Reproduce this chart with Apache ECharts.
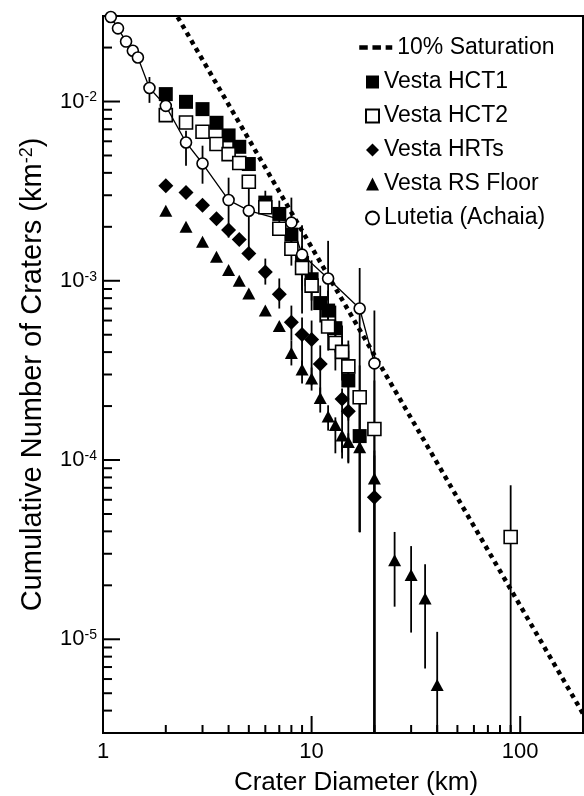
<!DOCTYPE html>
<html>
<head>
<meta charset="utf-8">
<script src="https://cdn.jsdelivr.net/npm/echarts@6/dist/echarts.min.js"></script>
<style>html,body{margin:0;padding:0;background:#fff}#c{width:584px;height:796px}</style>
</head>
<body>
<div id="c"></div>
<script>
// ---------- axis ranges ----------
const X_MIN = 1, X_MAX = 200;
const Y_MIN = 3e-6, Y_MAX = 3e-2;

// ---------- tick values ----------
const xMajorTicks = [10, 100];
const xMinorTicks = [2, 3, 4, 5, 6, 7, 8, 9, 20, 30, 40, 50, 60, 70, 80, 90];
const yMajorTicks = [1e-5, 1e-4, 1e-3, 1e-2];
const yMinorTicks = [4e-6, 5e-6, 6e-6, 7e-6, 8e-6, 9e-6,
  2e-5, 3e-5, 4e-5, 5e-5, 6e-5, 7e-5, 8e-5, 9e-5,
  2e-4, 3e-4, 4e-4, 5e-4, 6e-4, 7e-4, 8e-4, 9e-4,
  2e-3, 3e-3, 4e-3, 5e-3, 6e-3, 7e-3, 8e-3, 9e-3, 2e-2];

// ---------- 10% saturation line ----------
const satX = [2.28, 200];
const satY = [0.0296, 3.85e-6];

// ---------- Vesta HCT1 ----------
const hct1X  = [2, 2.5, 3, 3.5, 4, 4.5, 5, 6, 7, 8, 9, 10, 11, 12, 13, 15, 17];
const hct1Y  = [1.10e-2, 9.96e-3, 9.07e-3, 7.61e-3, 6.47e-3, 5.59e-3, 4.48e-3, 2.73e-3, 2.36e-3, 1.81e-3, 1.26e-3, 1.02e-3, 7.51e-4, 6.82e-4, 5.44e-4, 2.78e-4, 1.36e-4];
const hct1Lo = [null, null, null, null, null, null, null, 2.40e-3, 1.95e-3, 1.47e-3, 1.00e-3, 7.76e-4, 5.85e-4, 4.95e-4, 3.98e-4, 1.66e-4, 3.96e-5];
const hct1Hi = [null, null, null, null, null, null, null, 3.18e-3, 2.80e-3, 2.16e-3, 1.57e-3, 1.30e-3, 9.40e-4, 8.82e-4, 7.27e-4, 4.08e-4, 2.44e-4];

// ---------- Vesta HCT2 ----------
const hct2X  = [2, 2.5, 3, 3.5, 4, 4.5, 5, 6, 7, 8, 9, 10, 12, 13, 14, 15, 17, 20, 90];
const hct2Y  = [8.40e-3, 7.64e-3, 6.78e-3, 5.79e-3, 5.09e-3, 4.54e-3, 3.57e-3, 2.57e-3, 1.95e-3, 1.51e-3, 1.18e-3, 9.40e-4, 5.56e-4, 4.50e-4, 4.01e-4, 3.33e-4, 2.24e-4, 1.49e-4, 3.72e-5];
const hct2Lo = [null, null, null, null, null, null, null, null, null, 1.215e-3, 8.82e-4, 6.82e-4, 4.08e-4, 3.16e-4, 2.78e-4, 2.15e-4, 1.29e-4, 0, 0];
const hct2Hi = [null, null, null, null, null, null, null, null, null, 1.79e-3, 1.47e-3, 1.215e-3, 7.27e-4, 6.00e-4, 5.63e-4, 4.64e-4, 3.37e-4, 2.78e-4, 7.23e-5];

// ---------- Vesta HRTs ----------
const hrtX  = [2, 2.5, 3, 3.5, 4, 4.5, 5, 6, 7, 8, 9, 10, 11, 14, 15, 20];
const hrtY  = [3.39e-3, 3.11e-3, 2.64e-3, 2.22e-3, 1.92e-3, 1.70e-3, 1.42e-3, 1.12e-3, 8.41e-4, 5.87e-4, 5.01e-4, 4.70e-4, 3.43e-4, 2.19e-4, 1.87e-4, 6.20e-5];
const hrtLo = [null, null, null, null, null, null, null, 9.52e-4, 7.00e-4, 4.64e-4, 3.08e-4, 2.61e-4, 2.29e-4, 1.10e-4, 9.71e-5, 0];
const hrtHi = [null, null, null, null, null, null, null, 1.33e-3, 1.03e-3, 7.27e-4, 6.24e-4, 6.00e-4, 4.36e-4, 2.51e-4, 2.15e-4, 1.13e-4];

// ---------- Vesta RS Floor ----------
const rsX  = [2, 2.5, 3, 3.5, 4, 4.5, 5, 6, 7, 8, 9, 10, 11, 12, 13, 14, 15, 17, 20, 25, 30, 35, 40];
const rsY  = [2.46e-3, 2.00e-3, 1.65e-3, 1.36e-3, 1.15e-3, 9.99e-4, 8.48e-4, 6.82e-4, 5.59e-4, 3.96e-4, 3.20e-4, 2.85e-4, 2.22e-4, 1.75e-4, 1.57e-4, 1.37e-4, 1.26e-4, 1.18e-4, 7.88e-5, 2.76e-5, 2.28e-5, 1.69e-5, 5.56e-6];
const rsLo = [null, null, null, null, null, null, null, null, null, 3.37e-4, 2.67e-4, 2.44e-4, 1.84e-4, 1.46e-4, 1.09e-4, 1.02e-4, 9.58e-5, 3.96e-5, 0, 1.52e-5, 1.09e-5, 6.88e-6, 0];
const rsHi = [null, null, null, null, null, null, null, null, null, 4.64e-4, 3.59e-4, 3.28e-4, 2.54e-4, 2.02e-4, 1.73e-4, 1.46e-4, 1.41e-4, 1.46e-4, 1.06e-4, 3.97e-5, 3.31e-5, 2.62e-5, 1.10e-5];

// ---------- Lutetia (Achaia) ----------
const lutX  = [1.09, 1.18, 1.29, 1.39, 1.47, 1.67, 2, 2.5, 3, 4, 5, 8, 9, 12, 17, 20];
const lutY  = [2.96e-2, 2.56e-2, 2.16e-2, 1.92e-2, 1.76e-2, 1.19e-2, 9.46e-3, 5.91e-3, 4.51e-3, 2.82e-3, 2.46e-3, 2.11e-3, 1.40e-3, 1.03e-3, 7.00e-4, 3.46e-4];
const lutLo = [null, null, null, null, null, 9.83e-3, null, 4.38e-3, 3.48e-3, 1.74e-3, 1.53e-3, 1.67e-3, 6.57e-4, 7.76e-4, 3.96e-5, 0];
const lutHi = [null, null, null, null, null, 1.37e-2, null, 6.87e-3, 5.67e-3, 3.76e-3, 3.39e-3, 2.91e-3, 2.04e-3, 1.67e-3, 1.18e-3, 6.82e-4];

// ---------- helpers ----------
const FONT = "'Liberation Sans', Arial, Helvetica, sans-serif";
const zip = (xs, ys) => xs.map((x, i) => [x, ys[i]]);
const bars = (xs, lo, hi) => xs.map((x, i) => [x, lo[i], hi[i]]).filter(d => d[1] !== null && d[2] !== null);
const allBars = [].concat(
  bars(hct1X, hct1Lo, hct1Hi), bars(hct2X, hct2Lo, hct2Hi),
  bars(hrtX, hrtLo, hrtHi), bars(rsX, rsLo, rsHi), bars(lutX, lutLo, lutHi));
const tickData = [].concat(
  yMajorTicks.map(v => [X_MIN, v, 17, 0]),
  yMinorTicks.map(v => [X_MIN, v, 9, 0]),
  xMajorTicks.map(v => [v, Y_MIN, 17, 1]),
  xMinorTicks.map(v => [v, Y_MIN, 8, 1]));

const isPow10 = v => { const e = Math.log10(v); return Math.abs(e - Math.round(e)) < 1e-6; };

const chart = echarts.init(document.getElementById('c'), null, {renderer: 'canvas'});
chart.setOption({
  animation: false,
  backgroundColor: '#fff',
  textStyle: {fontFamily: FONT, color: '#000'},
  grid: {left: 103, right: 1, top: 16, bottom: 63, show: true, borderColor: '#000', borderWidth: 2,
    containLabel: false, outerBoundsMode: 'none'},
  legend: [
    {
      data: [{name: '10% Saturation', itemStyle: {opacity: 0}}], left: 352, top: 31, itemWidth: 33, itemHeight: 10,
      padding: 5, selectedMode: false,
      lineStyle: {type: [8.5, 4.7], width: 4.5, color: '#000', cap: 'butt'},
      textStyle: {fontFamily: FONT, fontSize: 23, color: '#000'}
    },
    {
      data: ['Vesta HCT1', 'Vesta HCT2', 'Vesta HRTs', 'Vesta RS Floor', {name: 'Lutetia (Achaia)', icon: 'circle'}],
      orient: 'vertical', left: 360, top: 65, itemWidth: 13, itemHeight: 13, itemGap: 10,
      padding: 5, selectedMode: false,
      textStyle: {fontFamily: FONT, fontSize: 23, lineHeight: 24, color: '#000'}
    }
  ],
  xAxis: {
    type: 'log', logBase: 10, min: X_MIN, max: X_MAX,
    axisLine: {lineStyle: {color: '#000', width: 2}},
    axisTick: {show: false}, splitLine: {show: false}, minorTick: {show: false},
    axisLabel: {color: '#000', fontFamily: FONT, fontSize: 22, margin: 8,
      formatter: v => isPow10(v) ? String(Math.round(v)) : ''},
    name: 'Crater Diameter (km)', nameLocation: 'middle', nameGap: 37,
    nameTextStyle: {fontFamily: FONT, fontSize: 26, color: '#000', padding: [0, 0, 0, 26]}
  },
  yAxis: {
    type: 'log', logBase: 10, min: Y_MIN, max: Y_MAX,
    axisLine: {lineStyle: {color: '#000', width: 2}},
    axisTick: {show: false}, splitLine: {show: false}, minorTick: {show: false},
    axisLabel: {color: '#000', fontFamily: FONT, margin: 6,
      formatter: v => isPow10(v) ? '{b|10}{s|' + Math.round(Math.log10(v)) + '}' : '',
      rich: {
        b: {fontFamily: FONT, fontSize: 22, lineHeight: 22, color: '#000'},
        s: {fontFamily: FONT, fontSize: 14, lineHeight: 14, verticalAlign: 'top', color: '#000'}
      }},
    name: 'Cumulative Number of Craters (km{s|-2})', nameLocation: 'middle', nameGap: 55,
    nameTextStyle: {
      fontFamily: FONT, fontSize: 29, lineHeight: 30, color: '#000',
      rich: {
        s: {fontFamily: FONT, fontSize: 18, lineHeight: 18, verticalAlign: 'top', color: '#000'}
      }
    }
  },
  series: [
    {
      name: '10% Saturation', type: 'line', data: zip(satX, satY), symbol: 'none', silent: true,
      itemStyle: {color: '#000'},
      lineStyle: {color: '#000', width: 4.5, type: [4.5, 4.5]}, clip: true, z: 1
    },
    {
      name: 'ticks', type: 'custom', data: tickData, silent: true, clip: false,
      encode: {x: 0, y: 1},
      renderItem: (params, api) => {
        const p = api.coord([api.value(0), api.value(1)]);
        const len = api.value(2), dir = api.value(3);
        const shape = dir === 0
          ? {x1: p[0], y1: p[1], x2: p[0] + len, y2: p[1]}
          : {x1: p[0], y1: p[1], x2: p[0], y2: p[1] - len};
        return {type: 'line', shape, style: {stroke: '#000', lineWidth: 2}};
      }
    },
    {
      name: 'errorbars', type: 'custom', data: allBars, silent: true,
      encode: {x: 0, y: 2},
      renderItem: (params, api) => {
        const x = api.value(0), lo = api.value(1), hi = api.value(2);
        const top = api.coord([x, Math.min(hi, Y_MAX)]);
        const bot = api.coord([x, lo > 0 ? lo : Y_MIN]);
        return {type: 'line', shape: {x1: top[0], y1: top[1], x2: bot[0], y2: bot[1]},
          style: {stroke: '#000', lineWidth: 1.8}};
      }
    },
    {
      name: 'Lutetia (Achaia)', type: 'line', data: zip(lutX, lutY), symbol: 'circle', symbolSize: 11,
      showSymbol: true, silent: true,
      lineStyle: {color: '#000', width: 1.3},
      itemStyle: {color: '#fff', borderColor: '#000', borderWidth: 1.6, opacity: 1}
    },
    {
      name: 'Vesta HCT1', type: 'scatter', data: zip(hct1X, hct1Y), symbol: 'rect', symbolSize: 14, silent: true,
      itemStyle: {color: '#000', opacity: 1}
    },
    {
      name: 'Vesta HCT2', type: 'scatter', data: zip(hct2X, hct2Y), symbol: 'rect', symbolSize: 13, silent: true,
      itemStyle: {color: '#fff', borderColor: '#000', borderWidth: 1.6, opacity: 1}
    },
    {
      name: 'Vesta HRTs', type: 'scatter', data: zip(hrtX, hrtY), symbol: 'diamond', symbolSize: 15, silent: true,
      itemStyle: {color: '#000', opacity: 1}
    },
    {
      name: 'Vesta RS Floor', type: 'scatter', data: zip(rsX, rsY), symbol: 'triangle', symbolSize: [13, 12], silent: true,
      itemStyle: {color: '#000', opacity: 1}
    }
  ]
});
</script>
</body>
</html>
